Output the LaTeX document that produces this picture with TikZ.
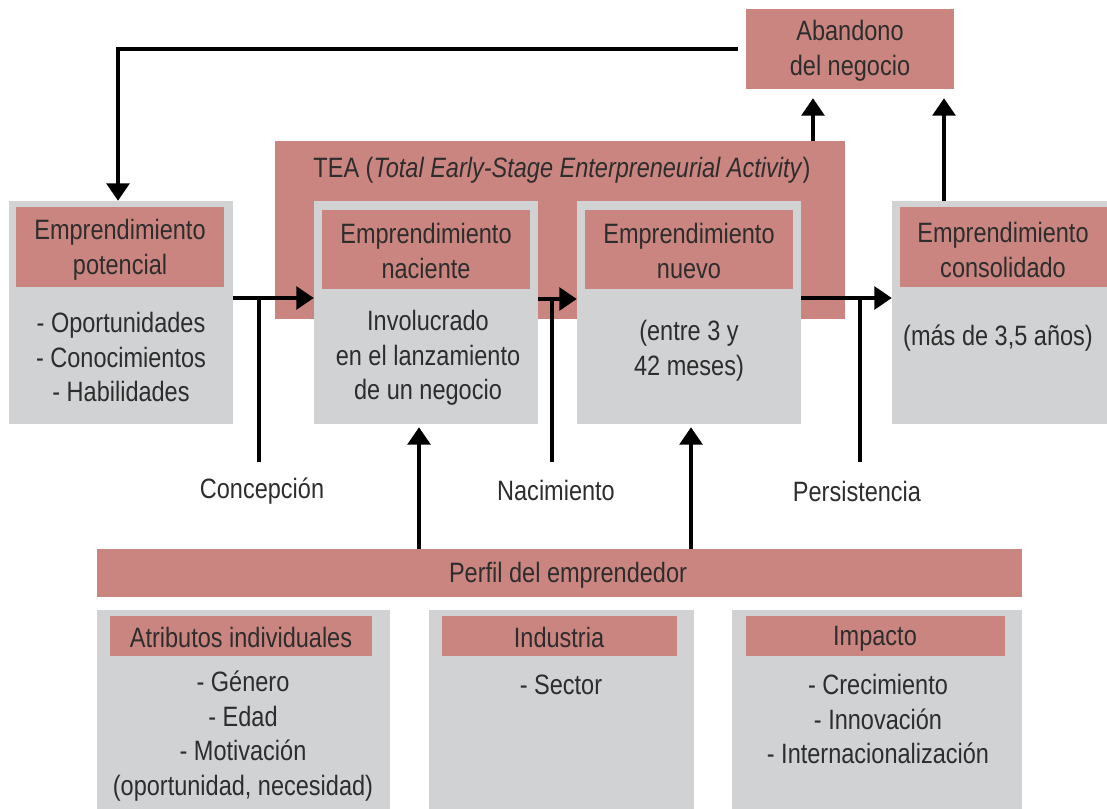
\documentclass[tikz,border=0pt]{standalone}
\usepackage{fontspec}
\setmainfont{Liberation Sans}[FakeStretch=0.84]
\usetikzlibrary{arrows.meta,fit}
\definecolor{pinkc}{RGB}{203,133,128}
\definecolor{grayc}{RGB}{209,210,212}
\definecolor{txtc}{RGB}{45,45,45}
\begin{document}
\begin{tikzpicture}[x=0.75pt,y=-0.75pt,
  font=\fontsize{21}{26}\selectfont,
  graybox/.style={fill=grayc,draw=none,inner sep=0pt},
  pinkbox/.style={fill=pinkc,draw=none,inner sep=0pt},
  lbl/.style={align=center,inner sep=0pt,text=txtc},
  conn/.style={line width=2.7pt,black},
  arr/.style={conn,-{Triangle[width=17pt,length=13pt]}}]
\useasboundingbox (0,0) rectangle (1107,809);
% boxes
\node[pinkbox,fit={(746,9) (954,89)}] (aband) {};
\node[pinkbox,fit={(275,141) (845,319)}] (tea) {};
\node[graybox,fit={(9,201) (233,424)}] (pot) {};
\node[pinkbox,fit={(16,207) (224,287)}] (poth) {};
\node[graybox,fit={(314,201) (538,424)}] (nac) {};
\node[pinkbox,fit={(322,210) (530,289)}] (nach) {};
\node[graybox,fit={(577,201) (801,424)}] (nue) {};
\node[pinkbox,fit={(585,210) (793,289)}] (nueh) {};
\node[graybox,fit={(892,201) (1107,424)}] (con) {};
\node[pinkbox,fit={(900,207) (1107,287)}] (conh) {};
\node[pinkbox,fit={(97,549) (1022,597)}] (perfil) {};
\node[graybox,fit={(97,610) (390,809)}] (atr) {};
\node[pinkbox,fit={(110,616) (372,656)}] (atrh) {};
\node[graybox,fit={(429,610) (694,809)}] (ind) {};
\node[pinkbox,fit={(442,616) (677,656)}] (indh) {};
\node[graybox,fit={(732,610) (1022,809)}] (imp) {};
\node[pinkbox,fit={(746,616) (1005,656)}] (imph) {};
% texts
\node[lbl] (tAband) at (850,51) {Abandono\\del negocio};
\node[lbl] (tTea) at (562,170) {TEA (\textit{Total Early-Stage Enterpreneurial Activity})};
\node[lbl] (tPotH) at (120,250) {Emprendimiento\\potencial};
\node[lbl] (tPotB) at (121,357) {- Oportunidades\\- Conocimientos\\- Habilidades};
\node[lbl] (tNacH) at (426,251) {Emprendimiento\\naciente};
\node[lbl] (tNacB) at (428,358) {Involucrado\\en el lanzamiento\\de un negocio};
\node[lbl] (tNueH) at (689,251) {Emprendimiento\\nuevo};
\node[lbl] (tNueB) at (689,351) {(entre 3 y\\42 meses)};
\node[lbl] (tConH) at (1003,250) {Emprendimiento\\consolidado};
\node[lbl] (tConB) at (998,338) {(más de 3,5 años)};
\node[lbl] (tConc) at (262,491) {Concepción};
\node[lbl] (tNaci) at (556,490) {Nacimiento};
\node[lbl] (tPers) at (857,491) {Persistencia};
\node[lbl] (tPerf) at (568,575) {Perfil del emprendedor};
\node[lbl] (tAtrH) at (241,637) {Atributos individuales};
\node[lbl] (tAtrB) at (243,736) {- Género\\- Edad\\- Motivación\\(oportunidad, necesidad)};
\node[lbl] (tIndH) at (559,637) {Industria};
\node[lbl] (tIndB) at (561,685) {- Sector};
\node[lbl] (tImpH) at (875,639) {Impacto};
\node[lbl] (tImpB) at (878,719) {- Crecimiento\\- Innovación\\- Internacionalización};
% helper coordinates
\coordinate (hy1) at (0,298);
\coordinate (hy2) at (0,299);
\coordinate (sx1) at (259,0);
\coordinate (sx2) at (552,0);
\coordinate (sx3) at (860,0);
\coordinate (sb) at (0,462);
\coordinate (ax1) at (813,0);
\coordinate (ax2) at (944,0);
\coordinate (ax0) at (118,0);
\coordinate (px1) at (419,0);
\coordinate (px2) at (691,0);
% connectors
\draw[arr] ([xshift=-6pt]aband.west) -| (ax0 |- pot.north);
\draw[arr,shorten >=6.75pt] (ax1 |- tea.north) -- (ax1 |- aband.south);
\draw[arr,shorten >=6.75pt] (ax2 |- con.north) -- (ax2 |- aband.south);
\draw[arr] (pot.east |- hy1) -- (nac.west |- hy1);
\draw[conn] (sx1 |- hy1) -- (sx1 |- sb);
\draw[arr] (nac.east |- hy2) -- (nue.west |- hy2);
\draw[conn] (sx2 |- hy2) -- (sx2 |- sb);
\draw[arr] (nue.east |- hy1) -- (con.west |- hy1);
\draw[conn] (sx3 |- hy1) -- (sx3 |- sb);
\draw[arr,shorten >=2.25pt] (px1 |- perfil.north) -- (px1 |- nac.south);
\draw[arr,shorten >=2.25pt] (px2 |- perfil.north) -- (px2 |- nue.south);
\end{tikzpicture}
\end{document}
